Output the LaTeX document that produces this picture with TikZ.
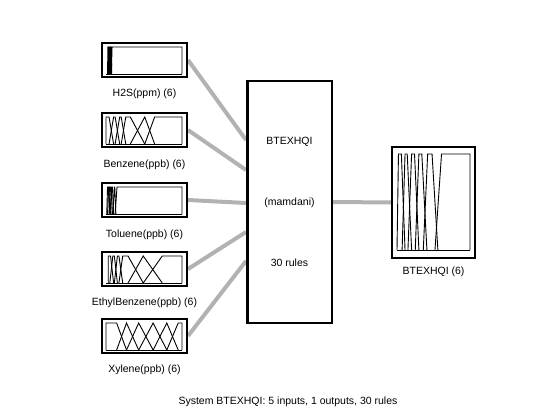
\documentclass[tikz,border=0pt]{standalone}
\usepackage{fontspec}
\setmainfont{Liberation Sans}
\usetikzlibrary{calc,backgrounds}

\begin{document}
\begin{tikzpicture}[x=1pt, y=-1pt, font=\fontsize{10.5}{12}\selectfont]

    % Styles of the boxes, of the gray links and of the membership curves
    \tikzset{
        inbox/.style={draw, line width=2.2pt, minimum width=84.8pt, minimum height=33.8pt, inner sep=0pt},
        sysbox/.style={draw, line width=2.5pt, minimum width=84.5pt, minimum height=241.5pt, inner sep=0pt},
        outbox/.style={draw, line width=2.2pt, minimum width=82.8pt, minimum height=110.8pt, inner sep=0pt},
        link/.style={line width=4pt, black!30},
        mf/.style={line width=0.9pt}
    }

    % Page keeps the size of the reference, one unit is one pixel
    \useasboundingbox (0, 0) rectangle (560, 420);

    % Boxes of the five inputs, the system and the output
    \node (h2s) at (144.5, 60) [inbox] {};
    \node (benz) at (144.5, 130) [inbox] {};
    \node (tol) at (144.5, 200) [inbox] {};
    \node (ethyl) at (144.5, 269) [inbox] {};
    \node (xyl) at (144.5, 336) [inbox] {};
    \node (sys) at (289.5, 202) [sysbox] {};
    \node (out) at (433.5, 202.5) [outbox] {};

    % Names under the boxes
    \node (h2slab) at ($(h2s) + (0, 34)$) {H2S(ppm) (6)};
    \node (benzlab) at ($(benz) + (0, 35)$) {Benzene(ppb) (6)};
    \node (tollab) at ($(tol) + (0, 35)$) {Toluene(ppb) (6)};
    \node (ethyllab) at ($(ethyl) + (0, 34)$) {EthylBenzene(ppb) (6)};
    \node (xyllab) at ($(xyl) + (0, 34)$) {Xylene(ppb) (6)};
    \node (outlab) at ($(out) + (0, 69.5)$) {BTEXHQI (6)};

    % Texts inside the system box
    \node (systitle) at (289.5, 142) {BTEXHQI};
    \node (systype) at (289.5, 203) {(mamdani)};
    \node (sysrules) at (289.5, 263) {30 rules};

    \node (caption) at (288, 402) {System BTEXHQI: 5 inputs, 1 outputs, 30 rules};

    % Points where the links meet the left side of the system box
    \coordinate (s1) at ($(sys.north west) + (0, 60)$);
    \coordinate (s2) at ($(sys.north west) + (0, 90)$);
    \coordinate (s3) at ($(sys.north west) + (0, 123)$);
    \coordinate (s4) at ($(sys.north west) + (0, 152)$);
    \coordinate (s5) at ($(sys.north west) + (0, 181)$);

    % Links, kept behind the boxes
    \begin{scope}[on background layer]
        \draw[link] (h2s.east) -- (s1);
        \draw[link] (benz.east) -- (s2);
        \draw[link] (tol.east) -- (s3);
        \draw[link] (ethyl.east) -- (s4);
        \draw[link] (xyl.east) -- (s5);
        \draw[link] (sys.east) -- (out.west);
    \end{scope}

    % Membership functions, each box maps a unit square
    % corners a/b/c/d of a trapezoid on the unit range
    \begin{scope}[shift={($(h2s.south west) + (5, -4)$)}, xscale=76, yscale=-27]
        \draw[mf] (0, 0) -- (1, 0);
        \foreach \a/\b/\c/\d in {0.02/0.025/0.03/0.035, 0.03/0.035/0.04/0.045, 0.04/0.045/0.05/0.055,
                0.05/0.055/0.06/0.065, 0.06/0.065/0.07/0.075, 0.07/0.08/1/1}
            \draw[mf] (\a, 0) -- (\b, 1) -- (\c, 1) -- (\d, 0);
    \end{scope}

    \begin{scope}[shift={($(benz.south west) + (5, -4)$)}, xscale=76, yscale=-27]
        \draw[mf] (0, 0) -- (1, 0);
        \foreach \a/\b/\c/\d in {0/0/0.04/0.10, 0.04/0.10/0.12/0.18, 0.12/0.18/0.20/0.26,
                0.20/0.26/0.32/0.51, 0.32/0.51/0.51/0.64, 0.51/0.64/1/1}
            \draw[mf] (\a, 0) -- (\b, 1) -- (\c, 1) -- (\d, 0);
    \end{scope}

    \begin{scope}[shift={($(tol.south west) + (5, -4)$)}, xscale=76, yscale=-27]
        \draw[mf] (0, 0) -- (1, 0);
        \foreach \a/\b/\c/\d in {0.01/0.02/0.03/0.05, 0.02/0.035/0.045/0.065, 0.04/0.055/0.065/0.085,
                0.06/0.075/0.085/0.10, 0.09/0.11/0.115/0.13, 0.12/0.145/1/1}
            \draw[mf] (\a, 0) -- (\b, 1) -- (\c, 1) -- (\d, 0);
    \end{scope}

    \begin{scope}[shift={($(ethyl.south west) + (5, -4)$)}, xscale=76, yscale=-27]
        \draw[mf] (0, 0) -- (1, 0);
        \foreach \a/\b/\c/\d in {0.03/0.03/0.06/0.10, 0.05/0.09/0.11/0.15, 0.11/0.15/0.17/0.22,
                0.17/0.22/0.29/0.49, 0.29/0.49/0.49/0.74, 0.49/0.74/1/1}
            \draw[mf] (\a, 0) -- (\b, 1) -- (\c, 1) -- (\d, 0);
    \end{scope}

    \begin{scope}[shift={($(xyl.south west) + (5, -4)$)}, xscale=76, yscale=-27]
        \draw[mf] (0, 0) -- (1, 0);
        \foreach \a/\b/\c/\d in {0/0/0.14/0.27, 0.14/0.27/0.27/0.43, 0.27/0.43/0.43/0.62,
                0.43/0.62/0.62/0.80, 0.62/0.80/0.80/0.95, 0.80/0.95/1/1}
            \draw[mf] (\a, 0) -- (\b, 1) -- (\c, 1) -- (\d, 0);
    \end{scope}

    \begin{scope}[shift={($(out.south west) + (6, -9)$)}, xscale=73, yscale=-96]
        \draw[mf] (0, 0) -- (1, 0);
        \foreach \a/\b/\c/\d in {0/0.02/0.06/0.11, 0.07/0.11/0.14/0.20, 0.15/0.20/0.24/0.30,
                0.25/0.30/0.34/0.41, 0.36/0.42/0.48/0.56, 0.52/0.61/1/1}
            \draw[mf] (\a, 0) -- (\b, 1) -- (\c, 1) -- (\d, 0);
    \end{scope}

\end{tikzpicture}
\end{document}
